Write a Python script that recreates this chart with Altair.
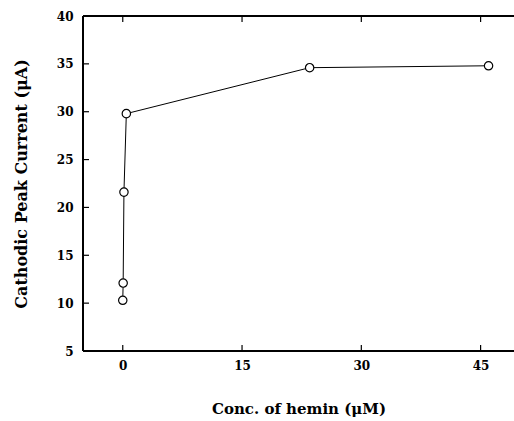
import altair as alt
import pandas as pd

# Hemin concentration (uM) vs cathodic peak current (uA)
conc = [0.0, 0.05, 0.15, 0.45, 23.5, 46.0]
current = [10.3, 12.1, 21.6, 29.8, 34.6, 34.8]

x_ticks = [0, 15, 30, 45]
y_ticks = [5, 10, 15, 20, 25, 30, 35, 40]

df = pd.DataFrame({"conc": conc, "current": current})
xt = pd.DataFrame({"v": x_ticks})
yt = pd.DataFrame({"v": y_ticks})

FONT = "DejaVu Serif"
W, H = 431, 335

x_scale = alt.Scale(domain=[-5, 49.2], nice=False, zero=False)
y_scale = alt.Scale(domain=[5, 40], nice=False, zero=False)

x_axis = alt.Axis(
    values=x_ticks, tickSize=0, labelPadding=9, domain=False, grid=False,
    labelFont=FONT, labelFontWeight="bold", labelFontSize=12, labelColor="black",
    title="Conc. of hemin (\u03bcM)", titleFont=FONT, titleFontWeight="bold",
    titleFontSize=15, titleColor="black", titlePadding=30,
)
y_axis = alt.Axis(
    values=y_ticks, tickSize=0, labelPadding=10, domain=False, grid=False,
    labelFont=FONT, labelFontWeight="bold", labelFontSize=12, labelColor="black",
    title="Cathodic Peak Current (\u03bcA)", titleFont=FONT, titleFontWeight="bold",
    titleFontSize=16, titleColor="black", titlePadding=27,
)

line = alt.Chart(df).mark_line(color="black", strokeWidth=1).encode(
    x=alt.X("conc:Q", scale=x_scale, axis=x_axis),
    y=alt.Y("current:Q", scale=y_scale, axis=y_axis),
)
points = alt.Chart(df).mark_point(
    shape="circle", size=70, filled=True, fill="white", stroke="black",
    strokeWidth=1.2, opacity=1,
).encode(x=alt.X("conc:Q", scale=x_scale), y=alt.Y("current:Q", scale=y_scale))

# frame on left, top and bottom edges
frame_style = dict(color="black", strokeWidth=1.6)
left_edge = alt.Chart(xt).mark_rule(**frame_style).encode(
    x=alt.value(0), y=alt.value(0), y2=alt.value(H))
top_edge = alt.Chart(xt).mark_rule(**frame_style).encode(
    x=alt.value(0), x2=alt.value(W), y=alt.value(0))
bottom_edge = alt.Chart(xt).mark_rule(**frame_style).encode(
    x=alt.value(0), x2=alt.value(W), y=alt.value(H))

# inward tick marks on bottom, top and left edges
tick_len = 6
xb = alt.Chart(xt).mark_rule(color="black", strokeWidth=1.2).encode(
    x=alt.X("v:Q", scale=x_scale), y=alt.value(H), y2=alt.value(H - tick_len))
xtop = alt.Chart(xt).mark_rule(color="black", strokeWidth=1.2).encode(
    x=alt.X("v:Q", scale=x_scale), y=alt.value(0), y2=alt.value(tick_len))
yl = alt.Chart(yt).mark_rule(color="black", strokeWidth=1.2).encode(
    y=alt.Y("v:Q", scale=y_scale), x=alt.value(0), x2=alt.value(tick_len))

chart = alt.layer(
    left_edge, top_edge, bottom_edge, xb, xtop, yl, line, points
).properties(
    width=W, height=H,
    background="white",
    autosize=alt.AutoSizeParams(type="none"),
    padding={"left": 83, "top": 16, "right": 0, "bottom": 70},
).configure_view(stroke=None)

chart.save("out.html", embed_options={"renderer": "svg", "actions": False})
